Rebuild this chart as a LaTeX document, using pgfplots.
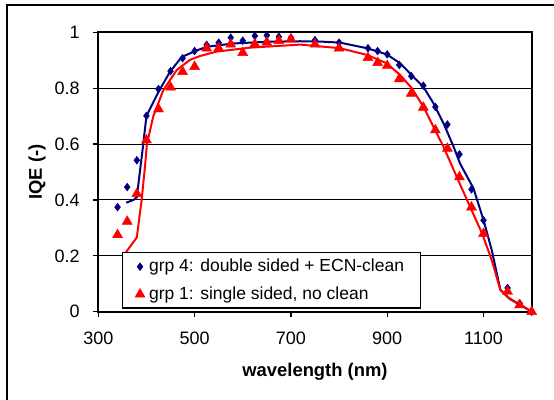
\documentclass[border=0pt]{standalone}
\usepackage{pgfplots}
\pgfplotsset{compat=1.18}
\usepackage{fontspec}
\setmainfont{Liberation Sans}
\definecolor{navy}{RGB}{0,0,128}
\definecolor{xlred}{RGB}{255,0,0}
\begin{document}
\begin{tikzpicture}
\path[use as bounding box] (0pt,0pt) rectangle (277pt,-200pt);
\draw[line width=0.7pt] (3.5pt,-200pt) -- (3.5pt,-2.5pt) -- (277pt,-2.5pt);
\begin{axis}[
  at={(49.15pt,-155.85pt)}, anchor=south west,
  scale only axis, width=216.7pt, height=139.7pt,
  xmin=300, xmax=1200, ymin=0, ymax=1,
  xtick={300,500,700,900,1100},
  ytick={0,0.2,0.4,0.6,0.8,1},
  yticklabels={0,0.2,0.4,0.6,0.8,1},
  xticklabels={300,500,700,900,1100},
  tick align=outside, tick pos=left,
  major tick length=2.5pt,
  tick style={black, line width=0.6pt},
  axis line style={line width=1pt},
  ymajorgrids, grid style={black, line width=0.5pt},
  ticklabel style={font=\fontsize{9}{10}\selectfont},
  yticklabel style={inner sep=0pt, anchor=east, xshift=-6.6pt},
  xticklabel style={inner sep=0pt, anchor=north, yshift=-7.6pt},
  /pgf/number format/assume math mode=true,
  xlabel={wavelength (nm)}, ylabel={IQE (-)},
  label style={font=\bfseries\fontsize{9.2}{10}\selectfont},
  xlabel style={at={(axis description cs:0.5,-0.2148)}, anchor=center},
  ylabel style={at={(axis description cs:-0.1413,0.5)}, anchor=center},
  legend cell align=left,
  legend image code/.code={\path (-2.6pt,0pt); \draw[#1] plot coordinates {(0pt,0pt)};},
  legend style={at={(axis description cs:0.0539,0.2126)}, anchor=north west,
    draw=black, line width=0.6pt, fill=white,
    font=\fontsize{8.75}{11}\selectfont,
    inner xsep=6pt, inner ysep=0pt, row sep=0pt,
    nodes={inner ysep=2.4pt, text height=7pt, text depth=2pt}},
]
% model lines
\addplot[navy, line width=1pt, forget plot] coordinates {
(358,0.39) (373,0.40) (380,0.41) (387,0.51) (392,0.58) (394,0.61) (400,0.70)
(425,0.787) (449,0.859) (473,0.911) (501,0.933) (525,0.948) (580,0.960)
(650,0.966) (719,0.968) (760,0.967) (802,0.963) (858,0.943) (899,0.921)
(927,0.889) (954,0.841) (975,0.805) (996,0.746) (1017,0.674) (1038,0.59)
(1051,0.531) (1079,0.442) (1100,0.328) (1117,0.221) (1135,0.078)
(1155,0.045) (1183,0.018) (1200,0)};
\addplot[xlred, line width=1pt, forget plot] coordinates {
(352,0.20) (380,0.266) (390,0.40) (397,0.52) (401,0.60) (414,0.698)
(435,0.793) (463,0.865) (490,0.901) (511,0.915) (546,0.931) (615,0.945)
(719,0.956) (802,0.943) (858,0.919) (899,0.889) (927,0.847) (951,0.80)
(975,0.734) (996,0.662) (1017,0.59) (1045,0.48) (1072,0.376) (1097,0.28)
(1117,0.185) (1135,0.078) (1149,0.054) (1176,0.024) (1200,0)};
% measured points
\addplot[only marks, mark=diamond*, mark size=1.9pt, navy, mark options={fill=navy, line width=0.3pt}] coordinates {
(340,0.374) (360,0.446) (380,0.542) (400,0.701) (425,0.797) (450,0.861)
(475,0.907) (500,0.933) (525,0.955) (550,0.963) (575,0.981) (600,0.970)
(625,0.987) (650,0.989) (675,0.984) (700,0.981) (750,0.972) (800,0.963)
(860,0.943) (880,0.933) (900,0.921) (925,0.883) (950,0.843) (975,0.809)
(1000,0.733) (1025,0.670) (1050,0.563) (1075,0.438) (1100,0.327)
(1150,0.085) (1175,0.030) (1200,0.0)};
\addlegendentry{grp 4: double sided + ECN-clean}
\addplot[only marks, mark=triangle*, mark size=2.9pt, xlred, mark options={fill=xlred, line width=0.2pt}] coordinates {
(340,0.275) (360,0.323) (380,0.422) (400,0.614) (425,0.725) (450,0.803)
(475,0.859) (500,0.877) (525,0.943) (550,0.943) (575,0.957) (600,0.927)
(625,0.958) (650,0.964) (675,0.970) (700,0.975) (750,0.957) (800,0.943)
(860,0.909) (880,0.891) (900,0.880) (925,0.833) (950,0.781) (975,0.731)
(1000,0.650) (1025,0.584) (1050,0.482) (1075,0.374) (1100,0.279)
(1150,0.072) (1175,0.024) (1200,0.0)};
\addlegendentry{grp 1: single sided, no clean}
\end{axis}
\end{tikzpicture}
\end{document}
